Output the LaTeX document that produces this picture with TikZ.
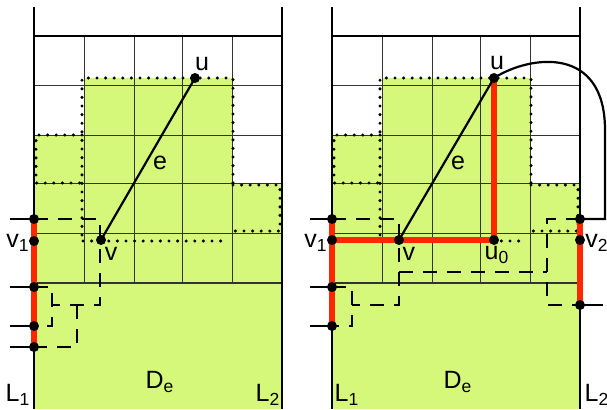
\documentclass[tikz,border=0pt]{standalone}
\usepackage{fontspec}
\setmainfont{Liberation Sans}
\usetikzlibrary{calc}
\definecolor{regiongreen}{RGB}{214,248,122}
\definecolor{pathred}{RGB}{255,38,0}
\tikzset{
  boundary/.style={line width=1pt, draw=black},
  gridline/.style={line width=0.45pt, draw=black!80},
  outline/.style={line width=1.7pt, dash pattern=on 0pt off 4.3pt, line cap=round},
  route/.style={line width=1.2pt, dash pattern=on 7pt off 5pt},
  redpath/.style={line width=2.8pt, draw=pathred},
  edgeline/.style={line width=1.1pt},
  stub/.style={line width=1.1pt},
  vertex/.style={circle, fill=black, inner sep=0pt, minimum size=5pt},
  lbl/.style={font=\fontsize{12.5}{14}\selectfont, inner sep=1pt},
}
% green region, grid, the two lines and the dotted outline of one panel
\newcommand{\panelbase}[1]{%
  \fill[regiongreen] (34,409) -- (34,135) -- (84,135) -- (84,78) -- (232,78)
    -- (232,183) -- (282,183) -- (282,409) -- cycle;
  \foreach \gx in {84,134,182,232} \draw[gridline] (\gx,36) -- (\gx,283);
  \foreach \gy in {85,135,183,233} \draw[gridline] (34,\gy) -- (282,\gy);
  \draw[boundary] (34,36) -- (282,36);
  \draw[gridline, line width=0.8pt] (34,283) -- (282,283);
  \draw[boundary] (34,7) -- (34,409);
  \draw[boundary] (282,7) -- (282,409);
  \draw[outline] (82,135) -- (36,135) -- (36,183) -- (82,183);
  \draw[outline] (82,235) -- (82,78) -- (233,78) -- (233,183);
  \draw[outline] (233,185) -- (280,185) -- (280,231) -- (233,231);
  \draw[outline] (83,241) -- (228,241);
  \node[lbl] (#1De) at (160,382) {D\textsubscript{e}};
}

\begin{document}
\begin{tikzpicture}[x=0.5pt, y=-0.5pt]
\useasboundingbox (0,0) rectangle (607,409);

% --- panels ---
\begin{scope}
  \panelbase{l}
\end{scope}
\begin{scope}[xshift=149pt]
  \panelbase{r}
\end{scope}

% --- left panel ---
\coordinate (lu) at (195,78);
\coordinate (lv) at (101,240);
\coordinate (lv1) at (34,241);
\coordinate (la1) at (34,219);
\coordinate (la2) at (34,287);
\coordinate (la3) at (34,326);
\coordinate (la4) at (34,347);
\coordinate (ld1) at (100,219);
\coordinate (ld2) at (100,305);
\coordinate (ld3) at (52,305);
\coordinate (ld4) at (52,287);
\coordinate (ld5) at (52,326);
\coordinate (ld6) at (77,305);
\coordinate (ld7) at (77,347);

\draw[route] (la1) -- (ld1) -- (ld2) -- (ld3);
\draw[route] (la2) -- (ld4) -- (ld5) -- (la3);
\draw[route] (ld6) -- (ld7) -- (la4);
\draw[redpath] (la1) -- (la4);
\draw[edgeline] (lv) -- (lu);
\foreach \p in {la1,la2,la3,la4}
  \draw[stub] (\p) -- ++(-24,0);
\foreach \p in {lu,lv,lv1,la1,la2,la3,la4}
  \node[vertex] at (\p) {};

\node[lbl] (lul) at (202,64) {u};
\node[lbl] (lel) at (160,163) {e};
\node[lbl] (lvl) at (111,254) {v};
\node[lbl] (lv1l) at (18,243) {v\textsubscript{1}};
\node[lbl] (lL1) at (18,395) {L\textsubscript{1}};
\node[lbl] (lL2) at (268,395) {L\textsubscript{2}};

% --- right panel ---
\coordinate (ru) at (494,78);
\coordinate (rv) at (399,240);
\coordinate (ru0) at (494,240);
\coordinate (rv1) at (332,240);
\coordinate (rv2) at (580,240);
\coordinate (ra1) at (332,219);
\coordinate (ra2) at (332,287);
\coordinate (ra3) at (332,326);
\coordinate (rw1) at (580,219);
\coordinate (rw3) at (580,305);
\coordinate (rd1) at (399,219);
\coordinate (rd2) at (399,305);
\coordinate (rd3) at (352,305);
\coordinate (rd4) at (352,287);
\coordinate (rd5) at (352,326);
\coordinate (rd6) at (399,272);
\coordinate (rd7) at (547,272);
\coordinate (rd8) at (547,219);
\coordinate (rd9) at (547,305);
\coordinate (rc1) at (605,130);
\coordinate (rc2) at (605,219);

\draw[route] (ra1) -- (rd1) -- (rd2) -- (rd3);
\draw[route] (ra2) -- (rd4) -- (rd5) -- (ra3);
\draw[route] (rd6) -- (rd7);
\draw[route] (rw1) -- (rd8) -- (rd9) -- (rw3);
\draw[redpath] (ra1) -- (ra3);
\draw[redpath] (rw1) -- (rw3);
\draw[redpath] (rv1) -- (ru0);
\draw[redpath] (ru) -- (ru0);
\draw[edgeline] (rv) -- (ru);
\draw[edgeline] (ru) .. controls (530,55) and (605,45) .. (rc1) -- (rc2) -- (rw1);
\foreach \p in {ra1,ra2,ra3}
  \draw[stub] (\p) -- ++(-22,0);
\draw[stub] (rw3) -- ++(23,0);
\foreach \p in {ru,rv,ru0,rv1,rv2,ra1,ra2,ra3,rw1,rw3}
  \node[vertex] at (\p) {};

\node[lbl] (rul) at (497,63) {u};
\node[lbl] (rel) at (458,163) {e};
\node[lbl] (rvl) at (409,254) {v};
\node[lbl] (ru0l) at (497,255) {u\textsubscript{0}};
\node[lbl] (rv1l) at (316,243) {v\textsubscript{1}};
\node[lbl] (rv2l) at (597,243) {v\textsubscript{2}};
\node[lbl] (rL1) at (347,395) {L\textsubscript{1}};
\node[lbl] (rL2) at (597,395) {L\textsubscript{2}};

\end{tikzpicture}
\end{document}
